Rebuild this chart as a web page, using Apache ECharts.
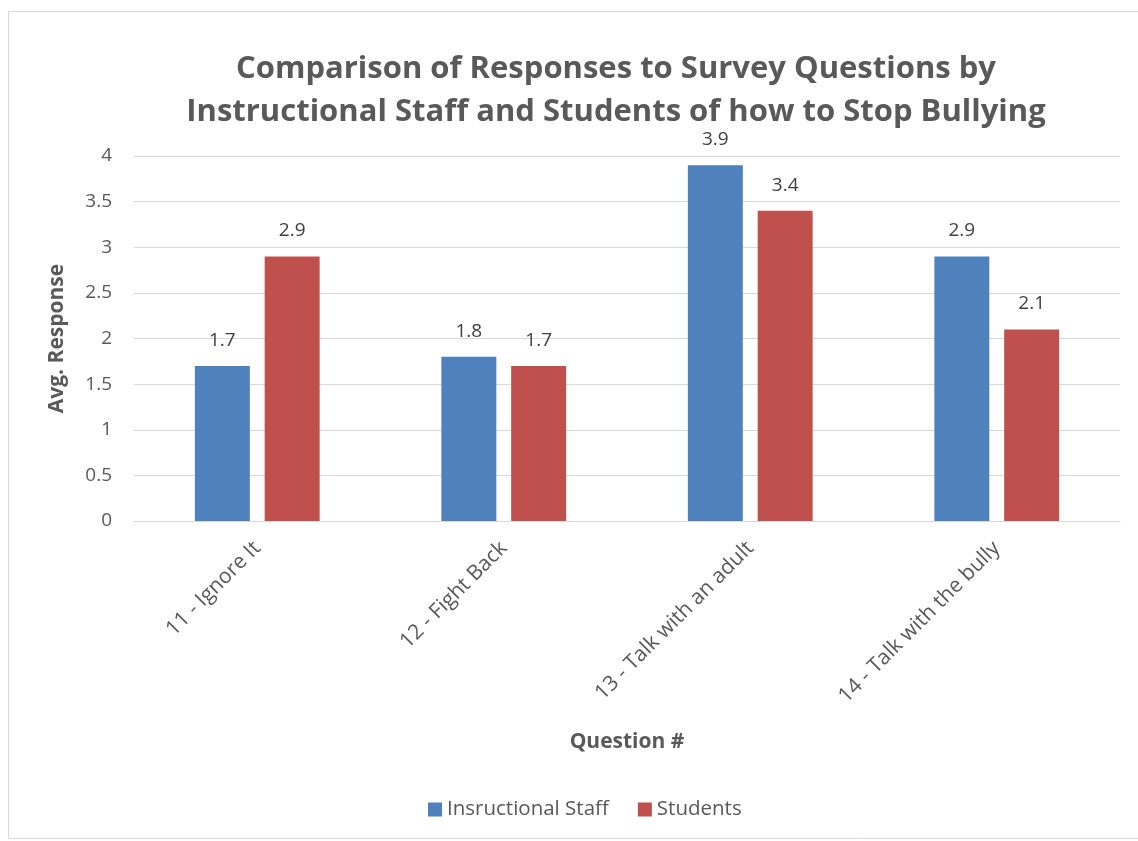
<!DOCTYPE html>
<html>
<head>
<meta charset="utf-8">
<script src="https://cdn.jsdelivr.net/npm/echarts@6/dist/echarts.min.js"></script>
<style>
  html, body { margin: 0; padding: 0; background: #fff; }
  #chart { width: 1138px; height: 841px; }
</style>
</head>
<body>
<div id="chart"></div>
<script>
var categories = ["11 - Ignore It", "12 - Fight Back", "13 - Talk with an adult", "14 - Talk with the bully"];
var staffValues = [1.7, 1.8, 3.9, 2.9];
var studentValues = [2.9, 1.7, 3.4, 2.1];
var yTicks = [0, 0.5, 1, 1.5, 2, 2.5, 3, 3.5, 4];

var chart = echarts.init(document.getElementById("chart"));
var font = "'Open Sans', 'Liberation Sans', sans-serif";

var option = {
  textStyle: { fontFamily: font },
  title: {
    text: "Comparison of Responses to Survey Questions by\nInstructional Staff and Students of how to Stop Bullying",
    left: 611,
    textAlign: "center",
    top: 43,
    textStyle: {
      fontFamily: font,
      fontSize: 31,
      fontWeight: "bold",
      color: "#595959",
      lineHeight: 43
    }
  },
  // chart border
  graphic: [
    {
      type: "rect",
      shape: { x: 8.5, y: 11.5, width: 1200, height: 827 },
      style: { fill: "none", stroke: "#d9d9d9", lineWidth: 1 },
      silent: true
    }
  ],
  legend: {
    bottom: 16,
    left: 423,
    itemWidth: 14,
    itemHeight: 14,
    itemGap: 29,
    icon: "rect",
    textStyle: { fontFamily: font, fontSize: 20.5, color: "#595959" },
    data: ["Insructional Staff", "Students"]
  },
  grid: {
    left: 134,
    right: 18,
    top: 156,
    bottom: 320,
    containLabel: false
  },
  xAxis: {
    type: "category",
    data: categories,
    name: "Question #",
    nameLocation: "middle",
    nameGap: 211,
    nameTextStyle: { fontFamily: font, fontSize: 21, fontWeight: "bold", color: "#595959" },
    axisTick: { show: false },
    axisLine: { show: true, lineStyle: { color: "#d9d9d9", width: 1 } },
    axisLabel: {
      rotate: 45,
      interval: 0,
      margin: 24,
      fontSize: 21,
      color: "#595959",
      fontFamily: font
    }
  },
  yAxis: {
    type: "value",
    min: 0,
    max: 4,
    interval: 0.5,
    name: "Avg. Response",
    nameLocation: "middle",
    nameGap: 66,
    nameRotate: 90,
    nameTextStyle: { fontFamily: font, fontSize: 21, fontWeight: "bold", color: "#595959" },
    axisLine: { show: false },
    axisTick: { show: false },
    splitLine: { lineStyle: { color: "#d9d9d9", width: 1 } },
    axisLabel: {
      fontSize: 19,
      color: "#595959",
      fontFamily: font,
      margin: 22,
      formatter: function (v) {
        return yTicks.indexOf(v) >= 0 ? String(v) : "";
      }
    }
  },
  series: [
    {
      name: "Insructional Staff",
      type: "bar",
      data: staffValues,
      barWidth: "22.3%",
      barGap: "27%",
      itemStyle: { color: "#4f81bd" },
      label: {
        show: true,
        position: "top",
        distance: 16,
        fontSize: 19,
        color: "#404040",
        fontFamily: font
      }
    },
    {
      name: "Students",
      type: "bar",
      data: studentValues,
      barWidth: "22.3%",
      itemStyle: { color: "#c0504d" },
      label: {
        show: true,
        position: "top",
        distance: 16,
        fontSize: 19,
        color: "#404040",
        fontFamily: font
      }
    }
  ]
};

chart.setOption(option);
</script>
</body>
</html>
